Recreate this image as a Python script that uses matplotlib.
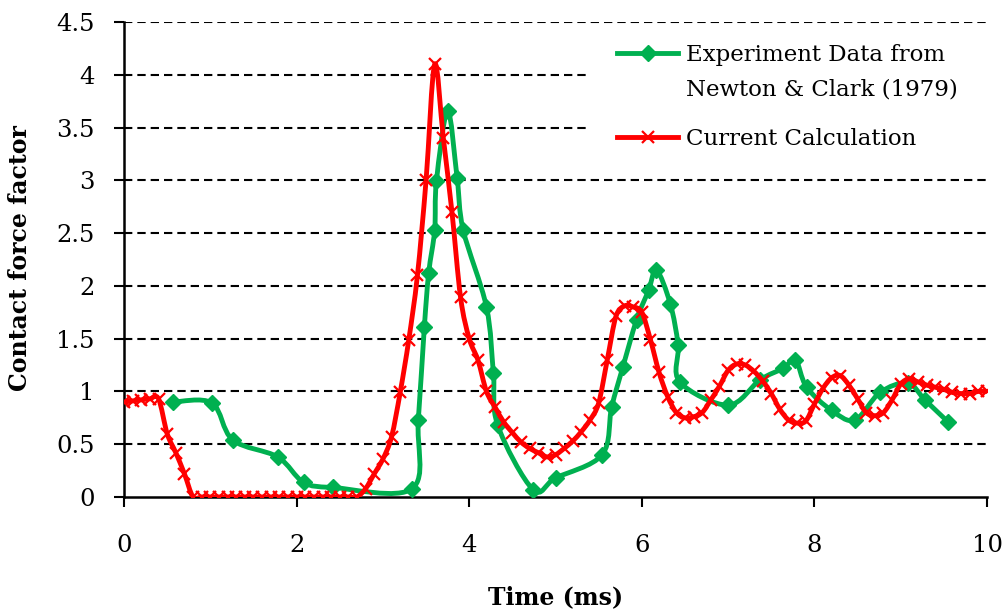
import matplotlib
matplotlib.use('Agg')
import matplotlib.pyplot as plt
import numpy as np
from matplotlib.path import Path
from matplotlib.patches import PathPatch, Rectangle
from matplotlib.lines import Line2D

# experiment data (Newton & Clark 1979)
exp_t = [0.57, 1.02, 1.26, 1.78, 2.08, 2.42, 3.34, 3.41, 3.48, 3.53, 3.60, 3.62,
         3.75, 3.86, 3.93, 4.20, 4.28, 4.33, 4.74, 5.00, 5.54, 5.65, 5.78, 5.94,
         6.08, 6.17, 6.33, 6.42, 6.44, 7.00, 7.37, 7.64, 7.78, 7.91, 8.20, 8.47,
         8.76, 9.08, 9.28, 9.55]
exp_f = [0.90, 0.89, 0.54, 0.38, 0.14, 0.09, 0.08, 0.73, 1.61, 2.12, 2.53, 2.99,
         3.66, 3.02, 2.53, 1.80, 1.17, 0.68, 0.07, 0.18, 0.40, 0.85, 1.23, 1.68,
         1.96, 2.15, 1.83, 1.44, 1.09, 0.87, 1.11, 1.22, 1.30, 1.04, 0.82, 0.73,
         0.99, 1.08, 0.92, 0.71]

# current calculation
calc_t = [0.0, 0.1, 0.2, 0.3, 0.4, 0.5, 0.6, 0.7, 0.8, 0.9,
          1.0, 1.1, 1.2, 1.3, 1.4, 1.5, 1.6, 1.7, 1.8, 1.9,
          2.0, 2.1, 2.2, 2.3, 2.4, 2.5, 2.6, 2.7, 2.8, 2.9,
          3.0, 3.1, 3.2, 3.3, 3.4, 3.5, 3.6, 3.7, 3.8, 3.9,
          4.0, 4.1, 4.2, 4.3, 4.4, 4.5, 4.6, 4.7, 4.8, 4.9,
          5.0, 5.1, 5.2, 5.3, 5.4, 5.5, 5.6, 5.7, 5.8, 5.9,
          6.0, 6.1, 6.2, 6.3, 6.4, 6.5, 6.6, 6.7, 6.8, 6.9,
          7.0, 7.1, 7.2, 7.3, 7.4, 7.5, 7.6, 7.7, 7.8, 7.9,
          8.0, 8.1, 8.2, 8.3, 8.4, 8.5, 8.6, 8.7, 8.8, 8.9,
          9.0, 9.1, 9.2, 9.3, 9.4, 9.5, 9.6, 9.7, 9.8, 9.9, 10.0]
calc_f = [0.90, 0.91, 0.92, 0.93, 0.93, 0.60, 0.42, 0.22, 0.00, 0.00,
          0.00, 0.00, 0.00, 0.00, 0.00, 0.00, 0.00, 0.00, 0.00, 0.00,
          0.00, 0.00, 0.00, 0.00, 0.00, 0.00, 0.00, 0.00, 0.08, 0.22,
          0.36, 0.57, 0.99, 1.49, 2.10, 3.00, 4.10, 3.40, 2.70, 1.89,
          1.50, 1.30, 1.00, 0.85, 0.71, 0.61, 0.52, 0.46, 0.42, 0.38,
          0.40, 0.46, 0.53, 0.62, 0.73, 0.89, 1.30, 1.71, 1.81, 1.80,
          1.75, 1.49, 1.18, 0.95, 0.80, 0.75, 0.76, 0.80, 0.92, 1.05,
          1.20, 1.26, 1.25, 1.19, 1.10, 0.98, 0.83, 0.73, 0.70, 0.72,
          0.88, 1.03, 1.13, 1.15, 1.06, 0.93, 0.80, 0.77, 0.80, 0.92,
          1.07, 1.12, 1.09, 1.06, 1.04, 1.02, 0.99, 0.98, 0.98, 1.00, 1.00]

x_ticks = [0, 2, 4, 6, 8, 10]
y_ticks = [0, 0.5, 1, 1.5, 2, 2.5, 3, 3.5, 4, 4.5]
y_ticklabels = ['0', '0.5', '1', '1.5', '2', '2.5', '3', '3.5', '4', '4.5']

GREEN = '#00B050'
RED = '#FF0000'
FONT = 'DejaVu Serif'
LW = 3.5


def smooth_line(ax, x, y, color, z):
    # excel-like smoothed line: bezier through every point
    p = np.column_stack([x, y]).astype(float)
    verts = [p[0]]
    codes = [Path.MOVETO]
    n = len(p)
    for i in range(n - 1):
        p0 = p[i - 1] if i > 0 else p[i]
        p1, p2 = p[i], p[i + 1]
        p3 = p[i + 2] if i + 2 < n else p[i + 1]
        verts += [p1 + (p2 - p0) / 6, p2 - (p3 - p1) / 6, p2]
        codes += [Path.CURVE4] * 3
    patch = PathPatch(Path(verts, codes), fill=False, edgecolor=color, lw=LW,
                      capstyle='round', joinstyle='round', zorder=z)
    ax.add_patch(patch)


fig = plt.figure(figsize=(10.05, 6.15), dpi=100)
ax = fig.add_axes([0.1234, 0.1919, 0.8587, 0.7723])

for yv in y_ticks[1:]:
    ax.axhline(yv, color='black', lw=1.5, ls=(0, (4, 2.4)), zorder=1)

smooth_line(ax, exp_t, exp_f, GREEN, 3)
ax.plot(exp_t, exp_f, ls='none', marker='D', ms=8, color=GREEN, zorder=4)
smooth_line(ax, calc_t, calc_f, RED, 5)
ax.plot(calc_t, calc_f, ls='none', marker='x', ms=9, mew=1.6, color=RED, zorder=6)

ax.set_xlim(0, 10)
ax.set_ylim(0, 4.5)
ax.set_xticks(x_ticks)
ax.set_yticks(y_ticks)
ax.set_yticklabels(y_ticklabels)
for s in ['top', 'right']:
    ax.spines[s].set_visible(False)
for s in ['left', 'bottom']:
    ax.spines[s].set_linewidth(1.8)
ax.tick_params(axis='both', direction='out', length=7, width=1.5, labelsize=17.5)
ax.tick_params(axis='x', pad=20)
ax.tick_params(axis='y', pad=14)
for lab in ax.get_xticklabels() + ax.get_yticklabels():
    lab.set_family(FONT)

ax.set_xlabel('Time (ms)', fontsize=17, fontweight='bold', family=FONT)
ax.set_ylabel('Contact force factor', fontsize=17, fontweight='bold', family=FONT)
ax.xaxis.set_label_coords(0.5, -0.185)
ax.yaxis.set_label_coords(-0.107, 0.503)

# legend, drawn by hand on a white box
ax.add_patch(Rectangle((0.54, 0.68), 0.46, 0.305, transform=ax.transAxes,
                       facecolor='white', edgecolor='none', zorder=2))
ax.add_line(Line2D([0.5713, 0.642], [0.935, 0.935], transform=ax.transAxes,
                   color=GREEN, lw=LW, zorder=7))
ax.plot([0.607], [0.935], transform=ax.transAxes, marker='D', ms=8, color=GREEN, zorder=8)
ax.add_line(Line2D([0.5713, 0.642], [0.758, 0.758], transform=ax.transAxes,
                   color=RED, lw=LW, zorder=7))
ax.plot([0.607], [0.758], transform=ax.transAxes, marker='x', ms=9, mew=1.6, color=RED, zorder=8)
ax.text(0.651, 0.935, 'Experiment Data from', transform=ax.transAxes,
        fontsize=16.5, family=FONT, va='center_baseline', ha='left', zorder=8)
ax.text(0.651, 0.863, 'Newton & Clark (1979)', transform=ax.transAxes,
        fontsize=16.5, family=FONT, va='center_baseline', ha='left', zorder=8)
ax.text(0.651, 0.758, 'Current Calculation', transform=ax.transAxes,
        fontsize=16.5, family=FONT, va='center_baseline', ha='left', zorder=8)

fig.savefig('out.png', dpi=100)
